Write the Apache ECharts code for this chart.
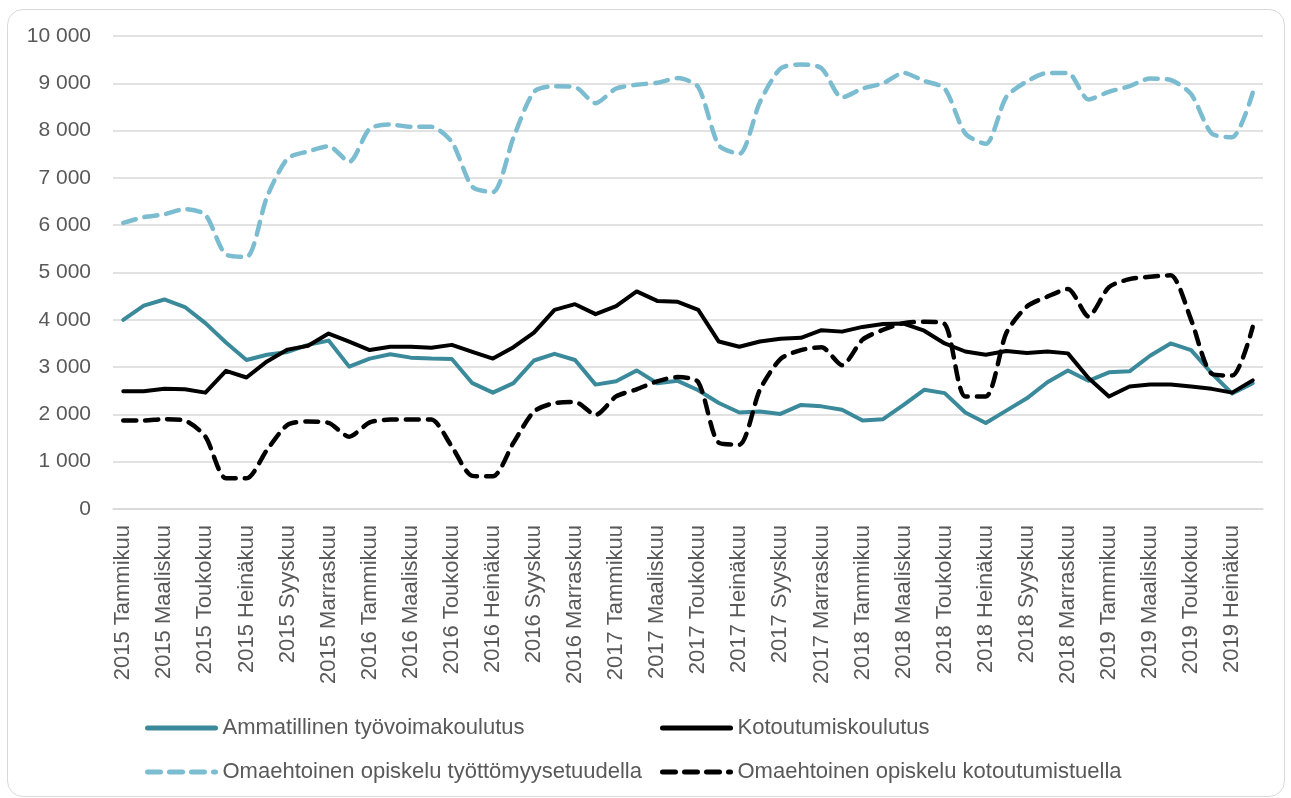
<!DOCTYPE html>
<html>
<head>
    <meta charset="utf-8">
    <title>Koulutus ja opiskelu</title>
    <script src="https://cdn.jsdelivr.net/npm/echarts@6/dist/echarts.min.js"></script>
    <style>
        html, body { margin: 0; padding: 0; background: #fff; }
        #chart { position: absolute; left: 0; top: 0; width: 1291px; height: 798px; }
        #frame {
            position: absolute; left: 7px; top: 9px; width: 1276px; height: 786px;
            border: 1.5px solid #d9d9d9; border-radius: 16px; pointer-events: none;
        }
    </style>
</head>
<body>
<div id="chart"></div>
<div id="frame"></div>

<script>
    // kuukaudet 2015 tammikuu - 2019 elokuu
    const years = [2015, 2016, 2017, 2018, 2019];
    const months = ['Tammikuu', 'Helmikuu', 'Maaliskuu', 'Huhtikuu', 'Toukokuu', 'Kesäkuu',
        'Heinäkuu', 'Elokuu', 'Syyskuu', 'Lokakuu', 'Marraskuu', 'Joulukuu'];
    const lastYearMonths = 8;

    const seriesNames = [
        'Ammatillinen työvoimakoulutus',
        'Kotoutumiskoulutus',
        'Omaehtoinen opiskelu työttömyysetuudella',
        'Omaehtoinen opiskelu kotoutumistuella'
    ];

    const ammatillinen = [4000, 4300, 4430, 4270, 3930, 3520, 3150, 3260, 3320, 3470,
        3560, 3010, 3180, 3270, 3200, 3180, 3170, 2660, 2460, 2660,
        3140, 3280, 3150, 2630, 2700, 2930, 2660, 2710, 2510, 2240,
        2040, 2060, 2010, 2200, 2170, 2100, 1870, 1900, 2200, 2520,
        2450, 2040, 1820, 2080, 2340, 2680, 2930, 2710, 2890, 2910,
        3240, 3500, 3360, 2870, 2440, 2660];

    const kotoutumis = [2490, 2490, 2540, 2530, 2460, 2920, 2780, 3120, 3370, 3450,
        3710, 3540, 3360, 3430, 3430, 3410, 3470, 3320, 3180, 3420,
        3730, 4210, 4330, 4120, 4290, 4600, 4400, 4380, 4210, 3540,
        3430, 3540, 3600, 3620, 3780, 3750, 3850, 3910, 3920, 3770,
        3500, 3330, 3260, 3340, 3300, 3330, 3290, 2770, 2380, 2590,
        2630, 2630, 2590, 2540, 2460, 2720];

    const omaTyott = [6050, 6170, 6230, 6340, 6220, 5380, 5330, 6600, 7410, 7560,
        7670, 7340, 8040, 8130, 8080, 8080, 7760, 6810, 6700, 7850,
        8820, 8940, 8920, 8580, 8890, 8970, 9010, 9110, 8920, 7690,
        7510, 8600, 9310, 9400, 9320, 8700, 8890, 9000, 9220, 9050,
        8890, 7940, 7720, 8710, 9040, 9220, 9220, 8660, 8820, 8940,
        9100, 9070, 8770, 7940, 7860, 8800];

    const omaKotout = [1870, 1870, 1900, 1870, 1530, 650, 650, 1250, 1780, 1850,
        1820, 1530, 1830, 1890, 1890, 1890, 1320, 700, 690, 1400,
        2060, 2240, 2260, 1990, 2380, 2530, 2700, 2790, 2680, 1400,
        1360, 2520, 3170, 3360, 3420, 3040, 3580, 3790, 3930, 3960,
        3910, 2380, 2380, 3720, 4280, 4490, 4650, 4070, 4690, 4860,
        4910, 4940, 4000, 2860, 2820, 3850];

    const categories = [];
    years.forEach(y => {
        const n = y === 2019 ? lastYearMonths : 12;
        months.slice(0, n).forEach(m => categories.push(`${y} ${m}`));
    });

    const font = "'Liberation Sans', Arial, sans-serif";
    const textColor = '#595959';
    const gridColor = '#d9d9d9';

    const myChart = echarts.init(document.getElementById('chart'));

    const lineSeries = (name, data, color, dashed) => ({
        name: name,
        type: 'line',
        data: data,
        symbol: 'none',
        smooth: dashed ? 0.25 : false,
        lineStyle: {
            color: color,
            width: dashed ? 4.5 : 4,
            type: dashed ? [13, 9] : 'solid',
            cap: 'round',
            join: 'round'
        },
        itemStyle: { color: color }
    });

    const legendBase = {
        orient: 'vertical',
        top: 712,
        itemWidth: 68,
        itemHeight: 14,
        itemGap: 22,
        itemStyle: { opacity: 0 },
        lineStyle: { width: 5, cap: 'round' },
        textStyle: { fontFamily: font, fontSize: 22, color: textColor, padding: [0, 0, 0, 2] }
    };

    const option = {
        animation: false,
        grid: { left: 113, right: 28, top: 36, bottom: 289 },
        legend: [
            Object.assign({}, legendBase, { left: 140, data: [seriesNames[0], seriesNames[2]] }),
            Object.assign({}, legendBase, { left: 655, data: [seriesNames[1], seriesNames[3]] })
        ],
        xAxis: {
            type: 'category',
            data: categories,
            boundaryGap: true,
            axisLine: { lineStyle: { color: gridColor, width: 1.5 } },
            axisTick: { show: false },
            axisLabel: {
                interval: 1,
                rotate: 90,
                margin: 16,
                fontFamily: font,
                fontSize: 22,
                color: textColor
            }
        },
        yAxis: {
            type: 'value',
            min: 0,
            max: 10000,
            interval: 1000,
            axisLine: { show: false },
            axisTick: { show: false },
            splitLine: { lineStyle: { color: gridColor, width: 1.5 } },
            axisLabel: {
                margin: 22,
                fontFamily: font,
                fontSize: 21,
                color: textColor,
                formatter: v => String(v).replace(/\B(?=(\d{3})+(?!\d))/g, ' ')
            }
        },
        series: [
            lineSeries(seriesNames[0], ammatillinen, '#3b8a9b', false),
            lineSeries(seriesNames[1], kotoutumis, '#000000', false),
            lineSeries(seriesNames[2], omaTyott, '#7bbcd1', true),
            lineSeries(seriesNames[3], omaKotout, '#000000', true)
        ]
    };

    myChart.setOption(option);
</script>
</body>
</html>
